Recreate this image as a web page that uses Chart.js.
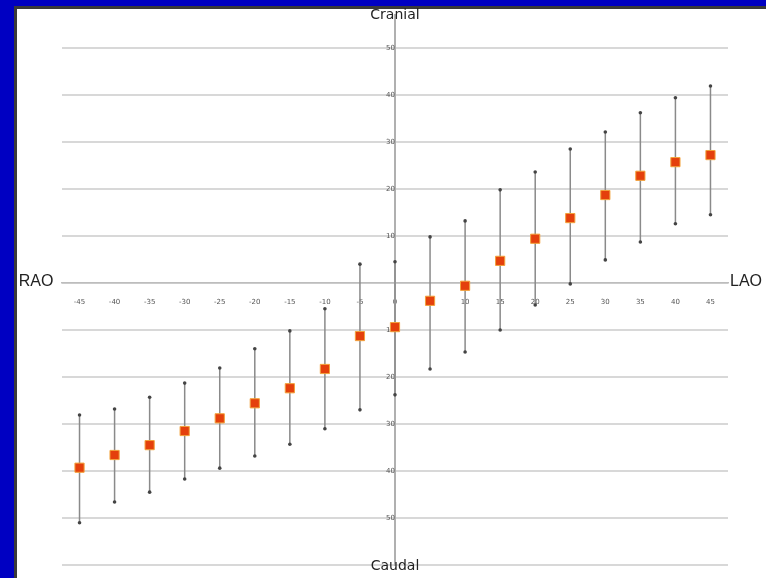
<!DOCTYPE html>
<html>
<head>
<meta charset="utf-8">
<script src="https://cdn.jsdelivr.net/npm/chart.js@4/dist/chart.umd.min.js"></script>
<style>
  html, body { margin: 0; padding: 0; }
  body { width: 766px; height: 578px; background: #0000c2; position: relative; overflow: hidden; }
  #paper { position: absolute; left: 14px; top: 6px; right: 0; bottom: 0; background: #fff;
           border-left: 3px solid #3a3a3a; border-top: 3px solid #3a3a3a; }
  #chart { position: absolute; left: 0; top: 0; }
</style>
</head>
<body>
<div id="paper"></div>
<canvas id="chart" width="766" height="578"></canvas>
<script>
// projection angle (RAO negative, LAO positive)
const angles = [-45, -40, -35, -30, -25, -20, -15, -10, -5, 0, 5, 10, 15, 20, 25, 30, 35, 40, 45];
// mean cranial(+)/caudal(-) angle
const means  = [-39.3, -36.6, -34.5, -31.5, -28.8, -25.6, -22.4, -18.3, -11.3, -9.4, -3.8, -0.6, 4.7, 9.4, 13.8, 18.7, 22.8, 25.7, 27.2];
// range limits
const highs  = [-28.1, -26.8, -24.3, -21.3, -18.1, -14.0, -10.2, -5.5, 4.0, 4.5, 9.8, 13.2, 19.8, 23.6, 28.5, 32.1, 36.2, 39.4, 41.9];
const lows   = [-51.0, -46.6, -44.5, -41.7, -39.4, -36.8, -34.3, -31.0, -27.0, -23.8, -18.3, -14.7, -10.0, -4.7, -0.2, 4.9, 8.7, 12.6, 14.5];

const xTicks = [-45, -40, -35, -30, -25, -20, -15, -10, -5, 0, 5, 10, 15, 20, 25, 30, 35, 40, 45];
const yTicks = [-60, -50, -40, -30, -20, -10, 0, 10, 20, 30, 40, 50];

const whiskers = [];
angles.forEach((a, i) => {
    whiskers.push({ x: a, y: lows[i] }, { x: a, y: highs[i] }, { x: a, y: null });
});

const axisLabels = {
    id: 'axisLabels',
    afterDraw(chart) {
        const ctx = chart.ctx;
        const x0 = chart.scales.x.getPixelForValue(0);
        const y0 = chart.scales.y.getPixelForValue(0);
        ctx.save();
        ctx.fillStyle = '#222';
        ctx.textBaseline = 'middle';
        ctx.textAlign = 'center';
        ctx.font = '14px "DejaVu Sans"';
        ctx.fillText('Cranial', x0, 15);
        ctx.fillText('Caudal', x0, 566);
        ctx.font = '16px "Liberation Sans"';
        ctx.fillText('RAO', 36, y0 - 1);
        ctx.fillText('LAO', 746, y0 - 1);
        ctx.restore();
    }
};

new Chart(document.getElementById('chart'), {
    type: 'scatter',
    data: {
        datasets: [
            {
                type: 'line',
                data: whiskers,
                borderColor: '#8a8a8a',
                borderWidth: 1.5,
                spanGaps: false,
                pointRadius: 1.8,
                pointBackgroundColor: '#444',
                pointBorderWidth: 0,
                order: 2
            },
            {
                data: angles.map((a, i) => ({ x: a, y: means[i] })),
                pointStyle: 'rect',
                pointRadius: 6.5,
                backgroundColor: '#e4400c',
                borderColor: '#f3a23a',
                borderWidth: 1,
                order: 1
            }
        ]
    },
    options: {
        responsive: false,
        animation: false,
        layout: { padding: { left: 62, right: 38, top: 15, bottom: 13 } },
        plugins: { legend: { display: false }, tooltip: { enabled: false } },
        scales: {
            x: {
                type: 'linear',
                position: { y: 0 },
                min: -47.5,
                max: 47.5,
                afterBuildTicks: s => { s.ticks = xTicks.map(v => ({ value: v })); },
                grid: { display: false },
                border: { display: true, color: '#bdbdbd', width: 1.5 },
                ticks: { color: '#555', font: { size: 7, family: 'DejaVu Sans' }, padding: 7 }
            },
            y: {
                type: 'linear',
                position: { x: 0 },
                min: -60,
                max: 57,
                afterBuildTicks: s => { s.ticks = yTicks.map(v => ({ value: v })); },
                grid: { color: '#d8d8d8', lineWidth: 2, drawTicks: false },
                border: { display: true, color: '#b0b0b0', width: 2 },
                ticks: {
                    color: '#555',
                    font: { size: 7, family: 'DejaVu Sans' },
                    padding: 4,
                    callback: v => (v === 0 || Math.abs(v) > 50) ? '' : Math.abs(v)
                }
            }
        }
    },
    plugins: [axisLabels]
});
</script>
</body>
</html>
